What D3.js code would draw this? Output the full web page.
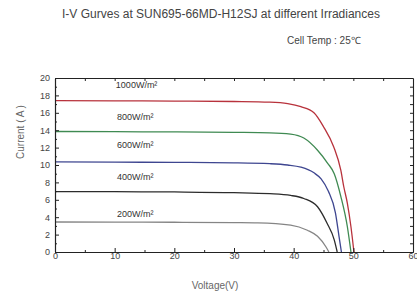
<!DOCTYPE html>
<html><head><meta charset="utf-8">
<script src="https://cdn.jsdelivr.net/npm/d3@7"></script>
<style>body{margin:0;background:#fff;}svg{display:block;font-family:"Liberation Sans",Arial,sans-serif;}</style>
</head><body>
<svg id="c" width="417" height="293"></svg>
<script>
const titleText = "I-V Gurves at SUN695-66MD-H12SJ at different Irradiances";
const subtitleText = "Cell Temp : 25\u2103";
const xLabel = "Voltage(V)";
const yLabel = "Current ( A )";
const xTicks = [0, 10, 20, 30, 40, 50, 60];
const yTicks = [0, 2, 4, 6, 8, 10, 12, 14, 16, 18, 20];
const seriesNames = ["1000W/m\u00b2", "800W/m\u00b2", "600W/m\u00b2", "400W/m\u00b2", "200W/m\u00b2"];
const seriesColors = ["#b8323c", "#3f8a52", "#3e4690", "#2c2c2c", "#858585"];
const v1000 = [0, 10, 20, 30, 36, 39, 41.2, 43.4, 45.0, 46.7, 47.9, 48.4, 49.0, 49.6, 50.1];
const i1000 = [17.4, 17.38, 17.35, 17.3, 17.22, 17.05, 16.7, 16.0, 14.4, 12.1, 9.4, 7.5, 5.6, 2.9, 0];
const v800 = [0, 10, 20, 30, 36, 39.5, 41.7, 44.0, 45.7, 46.8, 47.9, 49.0, 49.6];
const i800 = [13.85, 13.83, 13.8, 13.75, 13.7, 13.55, 13.1, 11.7, 10.2, 9.0, 6.4, 2.9, 0];
const v600 = [0, 10, 20, 30, 36, 39, 41.2, 43.4, 44.6, 45.8, 47.0, 47.6, 48.0];
const i600 = [10.35, 10.33, 10.3, 10.25, 10.15, 10.0, 9.75, 9.1, 8.4, 7.0, 4.5, 1.8, 0];
const v400 = [0, 10, 20, 30, 36, 39.5, 41.7, 44.0, 45.6, 46.8, 47.3];
const i400 = [6.95, 6.93, 6.9, 6.82, 6.7, 6.5, 6.15, 5.2, 3.3, 1.4, 0];
const v200 = [0, 10, 20, 30, 34, 39.5, 42.3, 44.0, 45.4, 45.9];
const i200 = [3.45, 3.44, 3.42, 3.38, 3.35, 3.1, 2.5, 1.8, 0.6, 0];
const voltages = [v1000, v800, v600, v400, v200];
const currents = [i1000, i800, i600, i400, i200];
const labelAnchor = [[10.2, 18.8], [10.4, 15.2], [10.4, 11.9], [10.4, 8.3], [10.4, 4.0]];

const svg = d3.select("#c");
const L = 55, R = 413, T = 78, B = 252;
const x = d3.scaleLinear().domain([0, 60]).range([L, R]);
const y = d3.scaleLinear().domain([0, 20]).range([B, T]);

svg.append("text").attr("x", 221).attr("y", 18).attr("text-anchor", "middle")
  .attr("font-size", 12).attr("fill", "#444").text(titleText);
svg.append("text").attr("x", 287).attr("y", 44).attr("font-size", 10)
  .attr("fill", "#444").text(subtitleText);

// curves
const line = d3.line().x(d => x(d[0])).y(d => y(d[1])).curve(d3.curveMonotoneX);
voltages.forEach((vs, k) => {
  const pts = vs.map((v, j) => [v, currents[k][j]]);
  svg.append("path").attr("d", line(pts)).attr("fill", "none")
    .attr("stroke", seriesColors[k]).attr("stroke-width", 1.3);
  svg.append("text").attr("x", x(labelAnchor[k][0])).attr("y", y(labelAnchor[k][1]))
    .attr("font-size", 9).attr("fill", "#333").text(seriesNames[k]);
});

function styleAxis(g) {
  g.selectAll(".domain").attr("stroke", "#222").attr("stroke-width", 1.1);
  g.selectAll(".tick line").attr("stroke", "#222");
  g.selectAll("text").attr("fill", "#444").attr("font-size", 9)
    .attr("font-family", "Liberation Sans, Arial, sans-serif");
}
// left
svg.append("g").attr("transform", `translate(${L},0)`)
  .call(d3.axisLeft(y).tickValues(yTicks).tickSizeInner(-4).tickSizeOuter(0).tickPadding(5))
  .call(styleAxis);
svg.append("g").attr("transform", `translate(${L},0)`)
  .call(d3.axisLeft(y).tickValues(d3.range(1, 20, 2)).tickSizeInner(-2).tickSizeOuter(0).tickFormat(""))
  .call(styleAxis);
// bottom
svg.append("g").attr("transform", `translate(0,${B})`)
  .call(d3.axisBottom(x).tickValues(xTicks).tickSizeInner(-4).tickSizeOuter(0).tickPadding(1))
  .call(styleAxis);
svg.append("g").attr("transform", `translate(0,${B})`)
  .call(d3.axisBottom(x).tickValues([5, 15, 25, 35, 45, 55]).tickSizeInner(-2).tickSizeOuter(0).tickFormat(""))
  .call(styleAxis);
// top
svg.append("g").attr("transform", `translate(0,${T})`)
  .call(d3.axisTop(x).tickValues(d3.range(5, 60, 5)).tickSizeInner(-3).tickSizeOuter(0).tickFormat(""))
  .call(styleAxis);
// right
svg.append("g").attr("transform", `translate(${R},0)`)
  .call(d3.axisRight(y).tickValues(d3.range(1, 20, 1)).tickSizeInner(-3).tickSizeOuter(0).tickFormat(""))
  .call(styleAxis);

svg.append("text").attr("transform", "translate(24,132) rotate(-90)").attr("text-anchor", "middle")
  .attr("font-size", 10).attr("fill", "#666").text(yLabel);
svg.append("text").attr("x", 215).attr("y", 289).attr("text-anchor", "middle")
  .attr("font-size", 10).attr("fill", "#666").text(xLabel);
</script>
</body></html>
